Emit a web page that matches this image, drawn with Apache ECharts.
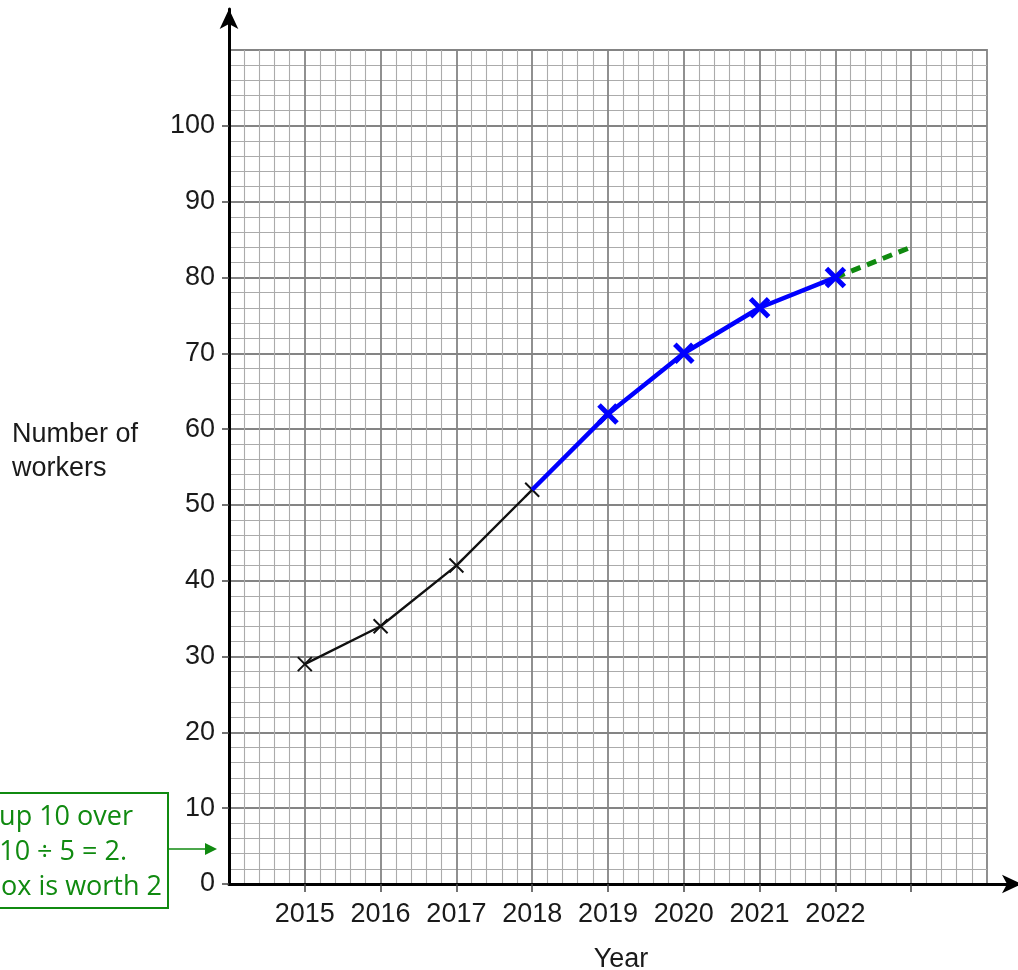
<!DOCTYPE html>
<html>
<head>
<meta charset="utf-8">
<script src="https://cdn.jsdelivr.net/npm/echarts@6/dist/echarts.min.js"></script>
<style>html,body{margin:0;padding:0;background:#fff}#c{width:1018px;height:970px}</style>
</head>
<body>
<div id="c"></div>
<script>
// Data
const yearsGiven = [2015, 2016, 2017, 2018];
const workersGiven = [29, 34, 42, 52];
const yearsAdded = [2018, 2019, 2020, 2021, 2022];
const workersAdded = [52, 62, 70, 76, 80];
const yearsTrend = [2022, 2023];
const workersTrend = [80, 84];
const xTickLabels = [2015, 2016, 2017, 2018, 2019, 2020, 2021, 2022];
const xTickMarks = [2015, 2016, 2017, 2018, 2019, 2020, 2021, 2022, 2023];
const yTickLabels = [0, 10, 20, 30, 40, 50, 60, 70, 80, 90, 100];
const calloutLines = ['up 10 over', '10 ÷ 5 = 2.', 'ox is worth 2'];

const X_PATH = 'path://M0,0L10,10M10,0L0,10';
const GREEN = '#108a10';
const MAJOR = '#848484';

function pairs(xs, ys) { return xs.map((x, i) => [x, ys[i]]); }

const chart = echarts.init(document.getElementById('c'), null, {renderer: 'canvas'});
const labelFont = {fontFamily: '"Liberation Sans", Arial, sans-serif', fontSize: 27, color: '#1a1a1a'};

const option = {
  animation: false,
  backgroundColor: '#fff',
  grid: [
    {left: 229, right: 31, top: 50, bottom: 86, containLabel: false, outerBoundsMode: 'none',
     show: true, borderColor: MAJOR, borderWidth: 1.8, backgroundColor: 'transparent'},
    {left: 229, right: -4, top: 9, bottom: 86, containLabel: false, outerBoundsMode: 'none'}
  ],
  xAxis: [
    {
      type: 'value', gridIndex: 0, min: 2014, max: 2024, interval: 1,
      axisLine: {show: false},
      axisTick: {show: true, length: 8, customValues: xTickMarks, lineStyle: {color: '#444', width: 1.5}},
      axisLabel: Object.assign({
        margin: 17,
        customValues: xTickLabels,
        formatter: v => String(v)
      }, labelFont),
      splitLine: {show: true, lineStyle: {color: MAJOR, width: 1.8}},
      minorTick: {show: false, splitNumber: 5},
      minorSplitLine: {show: true, lineStyle: {color: '#ababab', width: 1.1}},
      name: 'Year', nameLocation: 'middle', nameGap: 62,
      nameTextStyle: Object.assign({padding: [0, 0, 0, 26]}, labelFont)
    },
    {
      type: 'value', gridIndex: 1, min: 0, max: 1,
      axisLine: {show: true, onZero: false, symbol: ['none', 'arrow'], symbolSize: [14, 20], lineStyle: {color: '#000', width: 3}},
      axisTick: {show: false}, axisLabel: {show: false}, splitLine: {show: false}
    }
  ],
  yAxis: [
    {
      type: 'value', gridIndex: 0, min: 0, max: 110, interval: 10,
      axisLine: {show: false},
      axisTick: {show: true, length: 7, customValues: yTickLabels, lineStyle: {color: '#444', width: 1.5}},
      axisLabel: Object.assign({
        margin: 14,
        customValues: yTickLabels,
        padding: [12, 0, 0, 0],
        formatter: v => String(v)
      }, labelFont),
      splitLine: {show: true, lineStyle: {color: MAJOR, width: 1.8}},
      minorTick: {show: false, splitNumber: 5},
      minorSplitLine: {show: true, lineStyle: {color: '#ababab', width: 1.1}}
    },
    {
      type: 'value', gridIndex: 1, min: 0, max: 1,
      axisLine: {show: true, onZero: false, symbol: ['none', 'arrow'], symbolSize: [14, 20], lineStyle: {color: '#000', width: 3}},
      axisTick: {show: false}, axisLabel: {show: false}, splitLine: {show: false}
    }
  ],
  series: [
    {
      type: 'line', xAxisIndex: 0, yAxisIndex: 0, z: 3,
      data: pairs(yearsTrend, workersTrend),
      symbol: 'none',
      lineStyle: {color: GREEN, width: 5, type: [10, 7]}
    },
    {
      type: 'line', xAxisIndex: 0, yAxisIndex: 0, z: 4,
      data: pairs(yearsGiven, workersGiven),
      symbol: X_PATH, symbolSize: 14,
      itemStyle: {color: 'transparent', borderColor: '#111', borderWidth: 2},
      lineStyle: {color: '#111', width: 2.4}
    },
    {
      type: 'line', xAxisIndex: 0, yAxisIndex: 0, z: 5,
      data: pairs(yearsAdded, workersAdded).map((p, i) => i === 0 ? {value: p, symbol: 'none'} : p),
      symbol: X_PATH, symbolSize: 18,
      itemStyle: {color: 'transparent', borderColor: '#0000ff', borderWidth: 5},
      lineStyle: {color: '#0000ff', width: 4.5}
    }
  ],
  graphic: [
    {
      type: 'text', left: 12, top: 418,
      style: {text: 'Number of\nworkers', fontFamily: '"Liberation Sans", Arial, sans-serif', fontSize: 27, lineHeight: 34, fill: '#1a1a1a'}
    },
    {
      type: 'rect', shape: {x: -20, y: 793, width: 188, height: 115},
      style: {fill: '#fff', stroke: GREEN, lineWidth: 2}
    },
    {
      type: 'text', x: 133, y: 817,
      style: {text: calloutLines[0], fontFamily: '"Open Sans", sans-serif', fontSize: 27, fill: GREEN, align: 'right', verticalAlign: 'middle'}
    },
    {
      type: 'text', x: 127, y: 852,
      style: {text: calloutLines[1], fontFamily: '"Open Sans", sans-serif', fontSize: 27, fill: GREEN, align: 'right', verticalAlign: 'middle'}
    },
    {
      type: 'text', x: 162, y: 887,
      style: {text: calloutLines[2], fontFamily: '"Open Sans", sans-serif', fontSize: 27, fill: GREEN, align: 'right', verticalAlign: 'middle'}
    },
    {
      type: 'line', shape: {x1: 168, y1: 849, x2: 206, y2: 849},
      style: {stroke: GREEN, lineWidth: 1.5}
    },
    {
      type: 'polygon', shape: {points: [[205, 843], [217, 849], [205, 855]]},
      style: {fill: GREEN}
    }
  ]
};
chart.setOption(option);
</script>
</body>
</html>
